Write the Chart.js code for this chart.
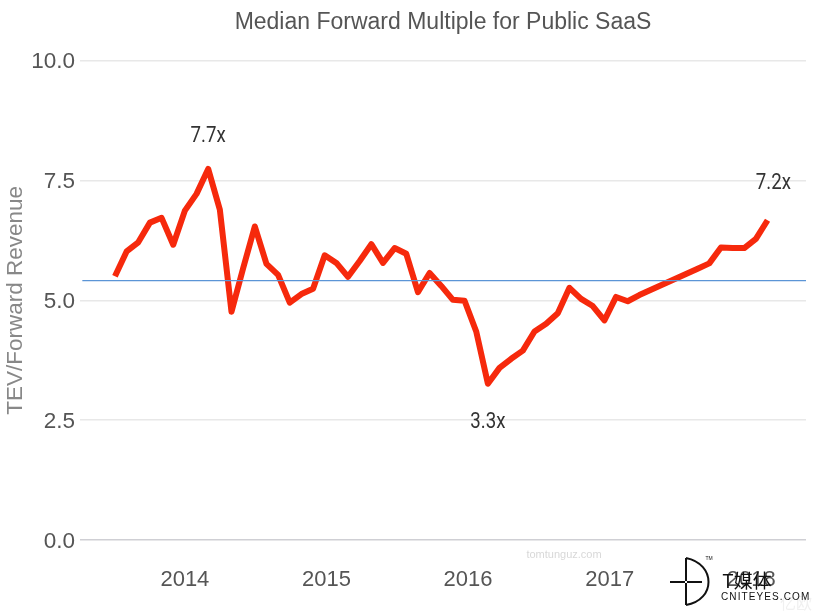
<!DOCTYPE html>
<html>
<head>
<meta charset="utf-8">
<title>Median Forward Multiple for Public SaaS</title>
<script src="https://cdn.jsdelivr.net/npm/chart.js@4"></script>
<style>
    body { margin: 0; background: #fff; }
</style>
</head>
<body>
<canvas id="multipleChart" width="820" height="616"></canvas>
<script>
// Monthly readings
const multiples = [
    5.50, 6.02, 6.21, 6.62, 6.72, 6.16, 6.87, 7.22, 7.74, 6.89,
    4.76, 5.67, 6.54, 5.76, 5.53, 4.95, 5.13, 5.24, 5.94, 5.78,
    5.49, 5.82, 6.17, 5.78, 6.09, 5.97, 5.17, 5.57, 5.30, 5.01,
    4.99, 4.35, 3.26, 3.59, 3.78, 3.95, 4.35, 4.51, 4.73, 5.26,
    5.03, 4.88, 4.58, 5.07, 4.98, 5.11, 5.22, 5.33, 5.44, 5.55,
    5.66, 5.77, 6.10, 6.09, 6.09, 6.28, 6.67
];
const medianMultiple = 5.41;
const yearLabels = ['2014', '2015', '2016', '2017', '2018'];
const yearPositions = [6.0, 18.15, 30.3, 42.45, 54.6];
const yTicks = [0, 2.5, 5, 7.5, 10];

const calloutTexts = ['7.7x', '3.3x', '7.2x'];
const calloutIndexes = [8, 32, 56.5];
const calloutValues = [8.42, 2.45, 7.43];

const xMin = -3;
const xMax = 59.3;

// Callouts and the watermarks that sit on top of the picture
const overlayPlugin = {
    id: 'overlay',
    afterDraw(chart) {
        const ctx = chart.ctx;
        const { x, y } = chart.scales;
        ctx.save();
        ctx.textAlign = 'center';
        ctx.textBaseline = 'middle';

        // no narrow font installed, so squeeze Roboto sideways
        ctx.fillStyle = '#333333';
        ctx.font = '22px Roboto';
        calloutTexts.forEach((text, i) => {
            ctx.save();
            ctx.translate(x.getPixelForValue(calloutIndexes[i]), y.getPixelForValue(calloutValues[i]));
            ctx.scale(0.85, 1);
            ctx.fillText(text, 0, 0);
            ctx.restore();
        });

        ctx.fillStyle = '#d8d8d8';
        ctx.font = '11px "Liberation Sans"';
        ctx.fillText('tomtunguz.com', 564, 555);

        ctx.fillStyle = '#f0f0f0';
        ctx.font = '16px "Noto Sans CJK SC"';
        ctx.fillText('亿欧', 796, 603);

        // logo
        ctx.strokeStyle = '#111111';
        ctx.lineWidth = 2;
        ctx.beginPath();
        ctx.moveTo(670, 582);
        ctx.lineTo(685, 582);
        ctx.moveTo(687, 582);
        ctx.lineTo(702, 582);
        ctx.moveTo(686, 558);
        ctx.lineTo(686, 581);
        ctx.moveTo(686, 583);
        ctx.lineTo(686, 605);
        ctx.moveTo(686, 558);
        ctx.bezierCurveTo(716, 564, 716, 600, 686, 605);
        ctx.stroke();

        ctx.fillStyle = '#111111';
        ctx.font = '5px "Liberation Sans"';
        ctx.fillText('TM', 709, 559);
        ctx.font = '19px "Noto Sans CJK SC"';
        ctx.fillText('T媒体', 747, 581);
        ctx.font = '10px "Liberation Sans"';
        ctx.letterSpacing = '1.1px';
        ctx.textAlign = 'left';
        ctx.fillText('CNITEYES.COM', 721, 597);
        ctx.restore();
    }
};

new Chart(document.getElementById('multipleChart'), {
    type: 'line',
    data: {
        datasets: [
            {
                label: 'Median',
                data: [{ x: xMin + 0.2, y: medianMultiple }, { x: xMax, y: medianMultiple }],
                borderColor: '#5b95d6',
                borderWidth: 1.2,
                pointRadius: 0,
                order: 1
            },
            {
                label: 'TEV/Forward Revenue',
                data: multiples.map((value, i) => ({ x: i, y: value })),
                borderColor: '#f6290c',
                borderWidth: 6,
                borderJoinStyle: 'round',
                borderCapStyle: 'butt',
                pointRadius: 0,
                tension: 0,
                order: 2
            }
        ]
    },
    options: {
        responsive: false,
        animation: false,
        layout: { padding: { right: 14 } },
        plugins: {
            legend: { display: false },
            tooltip: { enabled: false },
            title: {
                display: true,
                fullSize: false,
                text: 'Median Forward Multiple for Public SaaS',
                color: '#555555',
                font: { family: '"Liberation Sans"', size: 23, weight: 'normal' },
                padding: { top: 9, bottom: 24 }
            }
        },
        scales: {
            x: {
                type: 'linear',
                min: xMin,
                max: xMax,
                afterBuildTicks: scale => {
                    scale.ticks = yearPositions.map(value => ({ value }));
                },
                afterFit: scale => { scale.height = 76; },
                grid: { display: false },
                border: { display: false },
                ticks: {
                    autoSkip: false,
                    maxRotation: 0,
                    padding: 19,
                    color: '#555555',
                    font: { family: '"Liberation Sans"', size: 22 },
                    callback: (value, index) => yearLabels[index]
                }
            },
            y: {
                min: 0,
                max: 10,
                afterBuildTicks: scale => {
                    scale.ticks = yTicks.map(value => ({ value }));
                },
                afterFit: scale => { scale.width = 80; },
                border: { display: false },
                grid: {
                    drawTicks: false,
                    lineWidth: 1.5,
                    color: ctx => (ctx.tick.value === 0 ? '#cfcfd4' : '#e8e8e8')
                },
                ticks: {
                    padding: 5,
                    labelOffset: 1.5,
                    color: '#555555',
                    font: { family: '"Liberation Sans"', size: 22.5 },
                    callback: value => value.toFixed(1)
                },
                title: {
                    display: true,
                    text: 'TEV/Forward Revenue',
                    color: '#888888',
                    font: { family: '"Liberation Sans"', size: 22.5 },
                    padding: { top: 2, bottom: 0 }
                }
            }
        }
    },
    plugins: [overlayPlugin]
});
</script>
</body>
</html>
